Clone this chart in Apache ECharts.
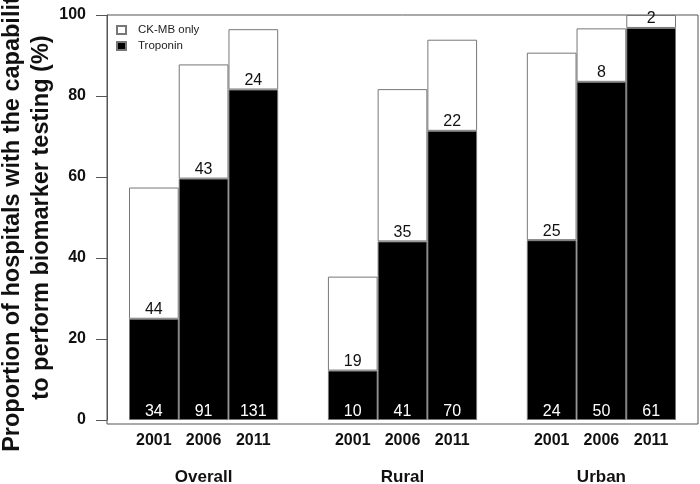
<!DOCTYPE html>
<html>
<head>
<meta charset="utf-8">
<script src="https://cdn.jsdelivr.net/npm/echarts@6/dist/echarts.min.js"></script>
<style>html,body{margin:0;padding:0;background:#fff}#c{width:700px;height:484px}</style>
</head>
<body>
<div id="c"></div>
<script>
// ---- data ----
const groups = ['Overall', 'Rural', 'Urban'];
const years = ['2001', '2006', '2011'];
// percentage of hospitals with troponin testing (black part)
const troponinPct = [25.0, 59.6, 81.6, 12.2, 44.1, 71.4, 44.4, 83.5, 96.8];
// total percentage with any biomarker testing (top of bar)
const totalPct = [57.4, 87.8, 96.5, 35.4, 81.7, 93.9, 90.7, 96.7, 100];
// counts printed on the bars
const troponinN = [34, 91, 131, 10, 41, 70, 24, 50, 61];
const ckmbN = [44, 43, 24, 19, 35, 22, 25, 8, 2];
const yTicks = [0, 20, 40, 60, 80, 100];

// ---- build category layout: 3 bars per group, one empty slot between groups ----
const cats = [], groupCats = [], tropData = [], ckData = [], tropLab = [], ckLab = [];
groups.forEach((g, gi) => {
  if (gi > 0) { cats.push(''); groupCats.push(''); tropData.push('-'); ckData.push('-'); tropLab.push(''); ckLab.push(''); }
  years.forEach((y, yi) => {
    const k = gi * years.length + yi;
    cats.push(y);
    groupCats.push(yi === 1 ? g : '');
    tropData.push(troponinPct[k]);
    ckData.push(+(totalPct[k] - troponinPct[k]).toFixed(2));
    tropLab.push(String(troponinN[k]));
    ckLab.push(String(ckmbN[k]));
  });
});

const FONT = 'Liberation Sans, Arial, sans-serif';
const chart = echarts.init(document.getElementById('c'), null, {renderer: 'canvas'});
chart.setOption({
  animation: false,
  backgroundColor: '#fff',
  textStyle: {fontFamily: FONT},
  grid: [
    {left: 129, right: 24, top: 15, bottom: 64, containLabel: false, outerBoundsMode: 'none'},
    {left: 107, right: 2, top: 15, bottom: 60, show: true, borderColor: '#555', borderWidth: 1,
     backgroundColor: 'transparent', z: 0, containLabel: false, outerBoundsMode: 'none'}
  ],
  legend: {
    orient: 'vertical', left: 116, top: 23, padding: 0, itemWidth: 9, itemHeight: 8, itemGap: 2,
    icon: 'rect',
    textStyle: {fontFamily: FONT, fontSize: 11.5, color: '#222', padding: [0, 0, 0, 7], lineHeight: 14},
    data: ['CK-MB only', 'Troponin']
  },
  xAxis: [
    {type: 'category', gridIndex: 0, data: cats, boundaryGap: true,
     axisLine: {show: false}, axisTick: {show: false},
     axisLabel: {interval: 0, margin: 13, fontFamily: FONT, fontSize: 16, fontWeight: 'bold', color: '#111'}},
    {type: 'category', gridIndex: 0, data: groupCats, position: 'bottom', offset: 36,
     axisLine: {show: false}, axisTick: {show: false},
     axisLabel: {interval: 0, margin: 13, fontFamily: FONT, fontSize: 17, fontWeight: 'bold', color: '#111'}},
    {type: 'value', gridIndex: 1, show: false, min: 0, max: 1}
  ],
  yAxis: [
    {type: 'value', gridIndex: 0, min: 0, max: 100, interval: 20, offset: 22,
     axisLine: {show: true, lineStyle: {color: '#555', width: 1}},
     axisTick: {show: true, length: 11, lineStyle: {color: '#555'}},
     splitLine: {show: false},
     axisLabel: {margin: 21, fontFamily: FONT, fontSize: 16, fontWeight: 'bold', color: '#111',
                 formatter: v => yTicks.includes(v) ? String(v) : ''},
     name: 'Proportion of hospitals with the capability\nto perform biomarker testing (%)',
     nameLocation: 'middle', nameRotate: 90, nameGap: 51, nameMoveOverlap: false,
     nameTextStyle: {fontFamily: FONT, fontSize: 23.5, fontWeight: 'bold', color: '#111', lineHeight: 29,
                     align: 'center'}},
    {type: 'value', gridIndex: 1, show: false, min: 0, max: 1}
  ],
  series: [
    {name: 'Troponin', type: 'bar', stack: 'a', xAxisIndex: 0, yAxisIndex: 0,
     barWidth: '100%', data: tropData,
     itemStyle: {color: '#000', borderColor: '#777', borderWidth: 1},
     label: {show: true, position: 'insideBottom', distance: 0, color: '#fff', fontFamily: FONT, fontSize: 16,
             formatter: p => tropLab[p.dataIndex]}},
    {name: 'CK-MB only', type: 'bar', stack: 'a', xAxisIndex: 0, yAxisIndex: 0,
     barWidth: '100%', data: ckData,
     itemStyle: {color: '#fff', borderColor: '#777', borderWidth: 1},
     label: {show: true, position: 'insideBottom', distance: 1, color: '#111', fontFamily: FONT, fontSize: 16,
             formatter: p => ckLab[p.dataIndex]}}
  ]
});
</script>
</body>
</html>
